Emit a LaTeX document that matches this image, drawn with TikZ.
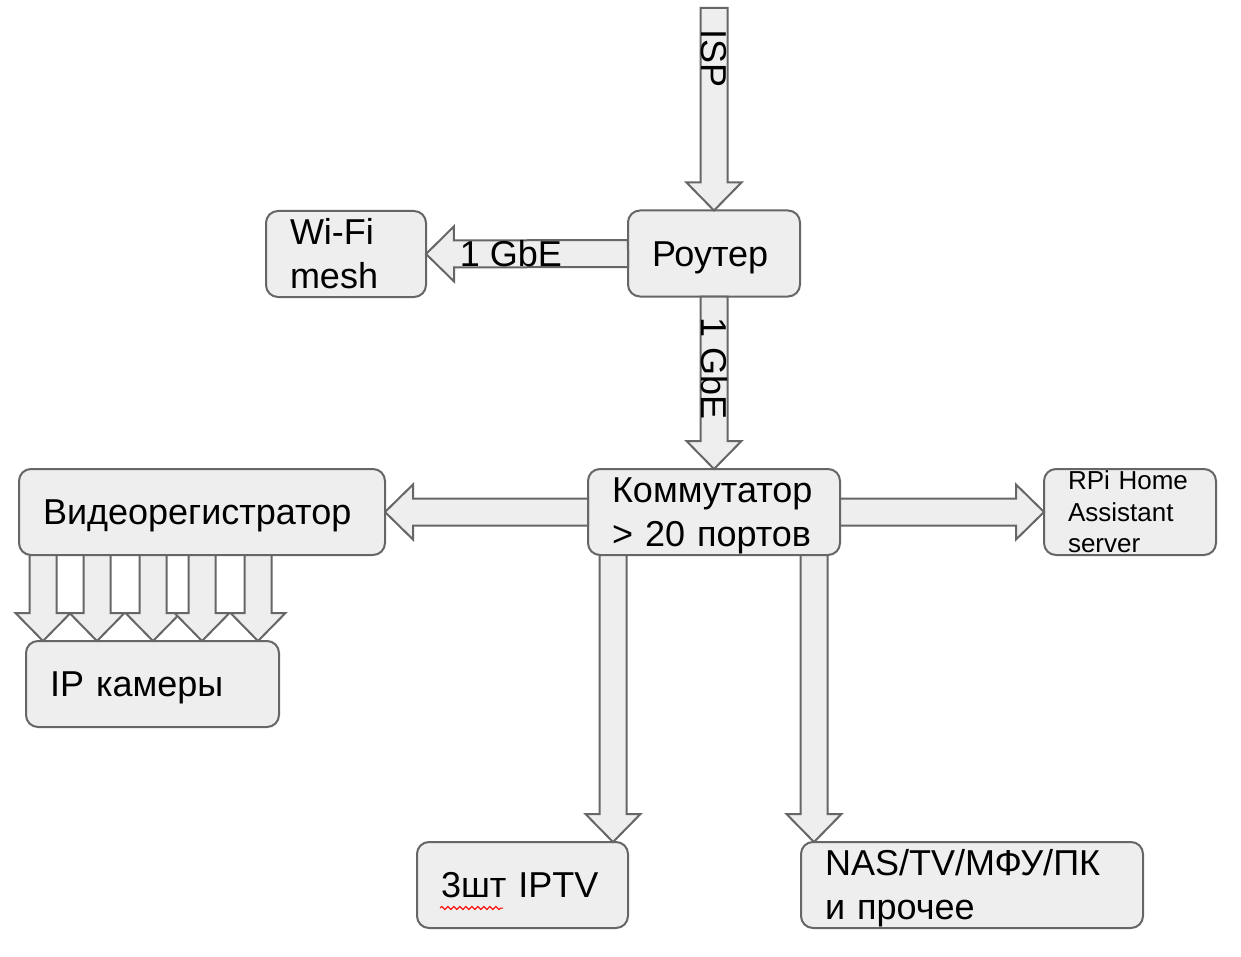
\documentclass[tikz,border=0pt]{standalone}
\usepackage{fontspec}
\setmainfont{Liberation Sans}
\usetikzlibrary{arrows.meta,positioning,calc,decorations.pathmorphing}

\definecolor{boxfill}{HTML}{EEEEEE}
\definecolor{boxline}{HTML}{666666}

\begin{document}
\begin{tikzpicture}[
  x=0.5pt, y=-0.5pt,
  plainbox/.style={draw=boxline, fill=boxfill, line width=1pt, rounded corners=6pt,
    align=left, inner xsep=12pt, inner ysep=0pt, minimum height=43pt, outer sep=0pt,
    font=\fontsize{18}{22}\selectfont},
  box/.style={plainbox,
    execute at begin node=\rule{0pt}{0.92em},
    execute at end node=\rule[-0.22em]{0pt}{0.22em}},
  lbl/.style={font=\fontsize{18}{22}\selectfont, inner sep=0pt},
  blockarrow/.style={draw=boxline, fill=boxfill, line width=1pt, line join=miter,
    to path={let \p1=($(\tikztotarget)!14pt!(\tikztostart)$) in
      ($(\tikztostart)!6.75pt!90:(\tikztotarget)$)
      -- ($(\p1)!6.75pt!90:(\tikztotarget)$)
      -- ($(\p1)!13.75pt!90:(\tikztotarget)$)
      -- (\tikztotarget)
      -- ($(\p1)!13.75pt!-90:(\tikztotarget)$)
      -- ($(\p1)!6.75pt!-90:(\tikztotarget)$)
      -- ($(\tikztostart)!6.75pt!-90:(\tikztotarget)$)
      -- cycle}}
]
  \useasboundingbox (0,0) rectangle (1241,957);

  % boxes
  \node[box, text width=62pt] (router) at (714,253.5) {Роутер};
  \node[box, text width=56pt] (wifi) at (346,254) {Wi-Fi\\mesh};
  \node[box, text width=102pt] (switch) at (714,512) {Коммутатор\\> 20 портов};
  \node[box, text width=159pt] (rec) at (202,512) {Видеорегистратор};
  \node[plainbox, text width=62pt, font=\fontsize{13}{15.75}\selectfont] (rpi) at (1130,512) {RPi Home\\Assistant\\server};
  \node[box, text width=102.5pt] (cam) at (152.5,684) {IP камеры};
  \node[box, text width=81.5pt] (iptv) at (522.5,885) {3шт IPTV};
  \node[box, text width=147pt] (nas) at (972,885) {NAS/TV/МФУ/ПК\\и прочее};

  % links
  \coordinate (isp) at (714,8);
  \draw[blockarrow] (isp) to (router.north);
  \draw[blockarrow] (router.west) to (wifi.east);
  \draw[blockarrow] (router.south) to (switch.north);
  \draw[blockarrow] (switch.west) to (rec.east);
  \draw[blockarrow] (switch.east) to (rpi.west);
  \coordinate (s1) at ($(switch.south west)+(25,0)$);
  \coordinate (s2) at ($(switch.south east)+(-26,0)$);
  \draw[blockarrow] (s1) to (s1 |- iptv.north);
  \draw[blockarrow] (s2) to (s2 |- nas.north);

  % cameras
  \foreach \dx [count=\i] in {24,78,134,183,239} {
    \coordinate (r\i) at ($(rec.south west)+(\dx,0)$);
    \draw[blockarrow] (r\i) to (r\i |- cam.north);
  }

  \node[lbl, rotate=-90] (ispl) at ($(isp)!0.25!(router.north)$) {ISP};
  \node[lbl] (gbe1) at ($(wifi.east)!0.42!(router.west)$) {1 GbE};
  \node[lbl, rotate=-90] (gbe2) at ($(router.south)!0.42!(switch.north)$) {1 GbE};

  \draw[red, line width=0.5pt, decorate, decoration={snake, amplitude=0.8pt, segment length=3pt}]
    ($(iptv.west)+(23,23)$) -- ($(iptv.west)+(86,23)$);
\end{tikzpicture}
\end{document}
